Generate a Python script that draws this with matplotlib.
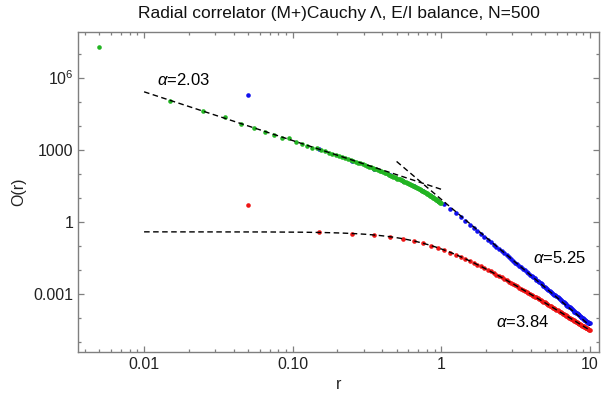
import numpy as np
import matplotlib
matplotlib.use("Agg")
import matplotlib.pyplot as plt
from matplotlib.ticker import FixedLocator, FixedFormatter, NullFormatter

plt.rcParams['font.family'] = ['Liberation Sans', 'DejaVu Sans']
plt.rcParams['mathtext.fontset'] = 'custom'
plt.rcParams['mathtext.rm'] = 'Liberation Sans'
plt.rcParams['mathtext.it'] = 'Liberation Sans:italic'

# ---------------- data (log10 of O(r)) ----------------
r_green = np.round(np.arange(0.005, 1.0, 0.01), 3)
logO_green = [7.28, 5.01, 4.62, 4.37, 4.06, 3.92, 3.74, 3.60, 3.47, 3.50, 3.33,
              3.22, 3.14, 3.09, 3.05, 3.00, 2.93, 2.88, 2.83, 2.78, 2.74,
              2.69, 2.65, 2.61, 2.57, 2.52, 2.49, 2.46, 2.43, 2.40, 2.36,
              2.33, 2.30, 2.27, 2.24, 2.21, 2.18, 2.15, 2.12, 2.10, 2.07,
              2.04, 2.02, 1.98, 1.95, 1.92, 1.91, 1.88, 1.85, 1.83, 1.80,
              1.77, 1.76, 1.73, 1.72, 1.69, 1.66, 1.65, 1.62, 1.60, 1.58,
              1.56, 1.53, 1.52, 1.50, 1.47, 1.45, 1.44, 1.41, 1.39, 1.37,
              1.35, 1.33, 1.31, 1.29, 1.27, 1.25, 1.23, 1.20, 1.18, 1.16,
              1.15, 1.13, 1.11, 1.09, 1.07, 1.05, 1.02, 1.00, 0.98, 0.96,
              0.94, 0.92, 0.90, 0.88, 0.85, 0.83, 0.81, 0.79, 0.77]

r_blue = np.round(np.arange(0.05, 10.0, 0.1), 2)
logO_blue = [5.29, 3.04, 2.55, 2.21, 1.93, 1.70, 1.48, 1.27, 1.07, 0.88,
             0.75, 0.55, 0.36, 0.19, 0.03, -0.12, -0.26, -0.39, -0.51, -0.63,
             -0.74, -0.85, -0.95, -1.04, -1.14, -1.23, -1.31, -1.39, -1.47, -1.55,
             -1.62, -1.70, -1.77, -1.83, -1.90, -1.96, -2.02, -2.08, -2.14, -2.20,
             -2.26, -2.31, -2.36, -2.42, -2.47, -2.52, -2.54, -2.61, -2.66, -2.72,
             -2.75, -2.79, -2.83, -2.88, -2.92, -2.96, -3.00, -3.04, -3.05, -3.11,
             -3.15, -3.19, -3.22, -3.26, -3.29, -3.35, -3.36, -3.39, -3.43, -3.46,
             -3.49, -3.52, -3.55, -3.55, -3.61, -3.64, -3.67, -3.70, -3.75, -3.76,
             -3.79, -3.81, -3.84, -3.84, -3.89, -3.92, -3.97, -3.97, -4.00, -4.02,
             -4.04, -4.07, -4.10, -4.15, -4.14, -4.17, -4.16, -4.21, -4.20, -4.22]

r_red = np.round(np.arange(0.05, 10.0, 0.1), 2)
logO_red = [0.70, -0.44, -0.49, -0.55, -0.62, -0.71, -0.80, -0.89, -0.99, -1.08,
            -1.18, -1.28, -1.37, -1.46, -1.54, -1.63, -1.71, -1.79, -1.86, -1.93,
            -2.00, -2.07, -2.14, -2.20, -2.26, -2.32, -2.38, -2.44, -2.49, -2.54,
            -2.60, -2.65, -2.69, -2.74, -2.79, -2.83, -2.88, -2.92, -2.96, -3.00,
            -3.04, -3.08, -3.12, -3.15, -3.19, -3.23, -3.26, -3.30, -3.33, -3.36,
            -3.40, -3.43, -3.46, -3.49, -3.52, -3.55, -3.58, -3.61, -3.64, -3.66,
            -3.69, -3.72, -3.74, -3.77, -3.80, -3.82, -3.85, -3.87, -3.89, -3.92,
            -3.94, -3.96, -3.99, -4.01, -4.03, -4.05, -4.08, -4.10, -4.12, -4.14,
            -4.16, -4.18, -4.20, -4.22, -4.24, -4.26, -4.28, -4.30, -4.32, -4.33,
            -4.35, -4.37, -4.39, -4.41, -4.42, -4.44, -4.46, -4.48, -4.49, -4.51]

# fit parameters (power-law exponents shown on the chart)
alpha_green, logamp_green, fit_range_green = 2.03, 1.35, (0.01, 1.0)
alpha_blue, logamp_blue, fit_range_blue = 5.25, 0.93, (0.5, 10.0)
alpha_red, logamp_red, r0_red, fit_range_red = 3.84, -0.42, 0.86, (0.01, 10.0)

x_major = [0.01, 0.1, 1, 10]
x_major_labels = ['0.01', '0.10', '1', '10']
y_major = [1e6, 1e3, 1, 1e-3]
y_major_labels = ['$10^6$', '1000', '1', '0.001']

title = 'Radial correlator (M+)Cauchy Λ, E/I balance, N=500'

# ---------------- figure ----------------
fig = plt.figure(figsize=(6.02, 3.97), dpi=100)
ax = fig.add_axes([0.1301, 0.1141, 0.8649, 0.8053])
ax.set_xscale('log')
ax.set_yscale('log')

c_green, c_blue, c_red = '#22b422', '#1010ee', '#ee1515'
ms = 3.3
ax.plot(r_blue, 10 ** np.array(logO_blue), 'o', color=c_blue, ms=ms, mec='none', zorder=2)
ax.plot(r_red, 10 ** np.array(logO_red), 'o', color=c_red, ms=ms, mec='none', zorder=2)
ax.plot(r_green, 10 ** np.array(logO_green), 'o', color=c_green, ms=ms, mec='none', zorder=3)

dash = dict(color='black', lw=1.0, ls=(0, (4, 2.5)), zorder=4)
xg = np.geomspace(*fit_range_green, 50)
ax.plot(xg, 10 ** logamp_green * xg ** -alpha_green, **dash)
xb = np.geomspace(*fit_range_blue, 50)
ax.plot(xb, 10 ** logamp_blue * xb ** -alpha_blue, **dash)
xr = np.geomspace(*fit_range_red, 200)
ax.plot(xr, 10 ** logamp_red * (1 + (xr / r0_red) ** 2) ** (-alpha_red / 2), **dash)

ax.set_xlim(0.00361, 11.5)
ax.set_ylim(10 ** -5.41, 10 ** 7.9)

ax.xaxis.set_major_locator(FixedLocator(x_major))
ax.xaxis.set_major_formatter(FixedFormatter(x_major_labels))
xminor = [m * 10.0 ** e for e in range(-3, 1) for m in range(2, 10)]
ax.xaxis.set_minor_locator(FixedLocator(xminor))
ax.xaxis.set_minor_formatter(NullFormatter())
ax.yaxis.set_major_locator(FixedLocator(y_major))
ax.yaxis.set_major_formatter(FixedFormatter(y_major_labels))
yminor = [10.0 ** e for e in range(-5, 8) if e not in (6, 3, 0, -3)]
ax.yaxis.set_minor_locator(FixedLocator(yminor))
ax.yaxis.set_minor_formatter(NullFormatter())

tc = '#7f7f7f'
ax.tick_params(which='both', direction='in', top=True, right=True, color=tc,
               labelsize=11.5, labelcolor='#222222', width=0.9)
ax.tick_params(which='major', length=4.5, pad=3.5)
ax.tick_params(which='minor', length=2.5)
for s in ax.spines.values():
    s.set_color(tc)
    s.set_linewidth(1.0)

ax.set_title(title, fontsize=12.5, pad=10, color='#111111')
ax.set_xlabel('r', fontsize=11.5, labelpad=4, color='#222222')
ax.set_ylabel('O(r)', fontsize=11.5, labelpad=5, color='#222222')

ax.text(0.0122, 10 ** 5.89, r'$\alpha$=%.2f' % alpha_green, fontsize=12, va='center', ha='left')
ax.text(4.16, 10 ** -1.50, r'$\alpha$=%.2f' % alpha_blue, fontsize=12, va='center', ha='left')
ax.text(2.33, 10 ** -4.19, r'$\alpha$=%.2f' % alpha_red, fontsize=12, va='center', ha='left')

fig.savefig('out.png', dpi=100)
